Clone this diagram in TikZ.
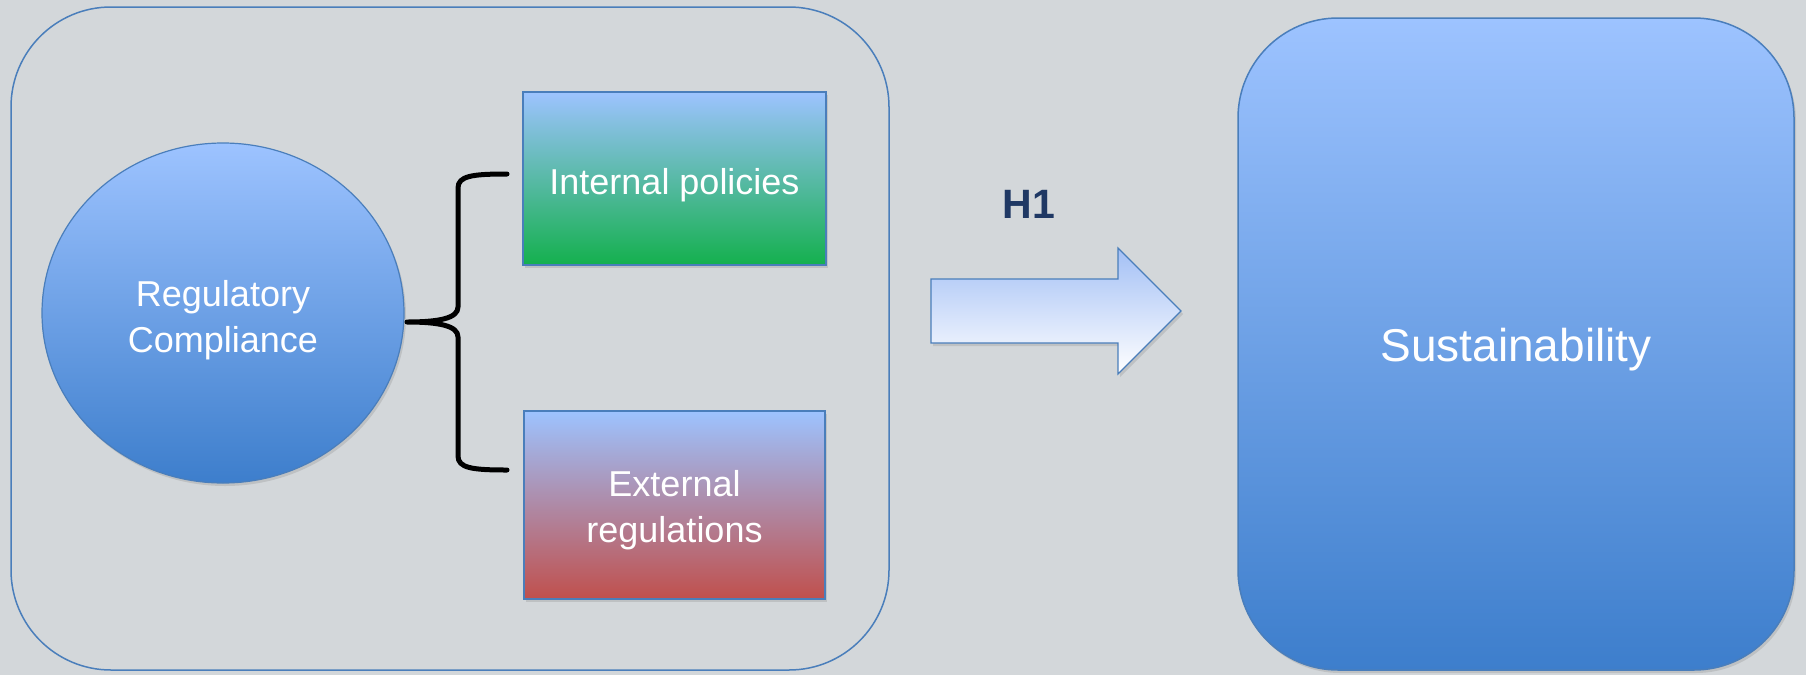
\documentclass[tikz,border=0pt]{standalone}
\usepackage{fontspec}
\setmainfont{Liberation Sans}
\usetikzlibrary{shapes.geometric,shadows}
\definecolor{bg}{HTML}{D3D7DA}
\definecolor{edgeblue}{HTML}{4A7EBB}
\definecolor{lightblue}{HTML}{9DC3FF}
\definecolor{deepblue}{HTML}{3D7ECC}
\definecolor{green1}{HTML}{14B04E}
\definecolor{red1}{HTML}{C0504D}
\definecolor{navy}{HTML}{1F3864}
\definecolor{arrowtop}{HTML}{A3C0F5}
\tikzset{
  bodytext/.style={font=\fontsize{36}{44}\selectfont, text=white, align=center},
  panel/.style={draw=edgeblue, line width=1.5pt, rounded corners=100pt},
  factbox/.style={rectangle, draw=edgeblue, line width=1.5pt,
    drop shadow={opacity=0.25, shadow xshift=2pt, shadow yshift=-3pt}},
  bracepath/.style={draw=black, line width=5pt, line cap=round, line join=round},
}
\begin{document}
\begin{tikzpicture}[x=1pt,y=-1pt]
\useasboundingbox (0,0) rectangle (1806,675);
\fill[bg] (0,0) rectangle (1806,675);
% left panel
\node[panel, minimum width=878pt, minimum height=663pt] (left) at (450,338.5) {};
% ellipse
\node[ellipse, draw=edgeblue, line width=1.2pt, top color=lightblue, bottom color=deepblue,
  minimum width=362pt, minimum height=340pt,
  drop shadow={opacity=0.25, shadow xshift=2pt, shadow yshift=-3pt}] (rc) at (223,313) {};
\node[bodytext] (rctext) at ([yshift=-7pt]rc.center) {Regulatory\\[2pt]Compliance};
% boxes
\node[factbox, top color=lightblue, bottom color=green1, minimum width=303pt, minimum height=173pt] (ip) at (674.5,178.5) {};
\node[bodytext] (iptext) at ([yshift=-7pt]ip.center) {Internal policies};
\node[factbox, top color=lightblue, bottom color=red1, minimum width=301pt, minimum height=188pt] (er) at (674.5,505) {};
\node[bodytext] (ertext) at ([yshift=-5pt]er.center) {External\\[2pt]regulations};
% brace
\coordinate (btop) at (507,174);
\coordinate (bbot) at (507,470);
\coordinate (btip) at (407,322);
\draw[bracepath] (btop) .. controls (472,174) and (458,176) .. (458,188)
  -- (458,307) .. controls (458,318) and (440,322) .. (btip)
  .. controls (440,322) and (458,326) .. (458,337)
  -- (458,456) .. controls (458,468) and (472,470) .. (bbot);
% H1 label
\node[font=\bfseries\fontsize{41}{48}\selectfont, text=navy] (h1) at (1029,204) {H1};
% block arrow
\draw[edgeblue, line width=1.2pt, top color=arrowtop, bottom color=white,
  drop shadow={opacity=0.25, shadow xshift=2pt, shadow yshift=-3pt}]
  (931,279) -- (1118,279) -- (1118,248) -- (1181,311) -- (1118,374) -- (1118,343) -- (931,343) -- cycle;
% sustainability
\node[draw=edgeblue, line width=1.5pt, rounded corners=100pt, top color=lightblue, bottom color=deepblue,
  minimum width=556pt, minimum height=652pt,
  drop shadow={opacity=0.25, shadow xshift=2pt, shadow yshift=-3pt}] (sus) at (1516,344) {};
\node[font=\fontsize{46}{54}\selectfont, text=white] (sustext) at ([yshift=-6pt]sus.center) {Sustainability};
\end{tikzpicture}
\end{document}
